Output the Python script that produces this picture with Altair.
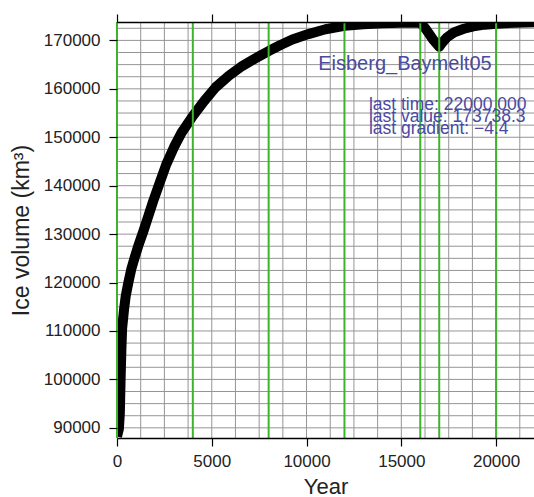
import altair as alt
import pandas as pd

# ---- data ----
years = [0, 100, 150, 190, 230, 270, 370, 460, 600, 750, 950, 1150, 1400, 1650,
         1900, 2250, 2600, 3000, 3400, 4000, 4600, 5200, 5900, 6600, 7300, 8000,
         8600, 9250, 10100, 11000, 12000, 13000, 14000, 15000, 16000, 16300,
         16650, 17000, 17150, 17400, 17800, 18300, 18800, 19400, 20000, 21000, 22000]
volume = [88200, 89800, 93000, 100000, 106000, 110500, 114400, 117200, 120000,
          122700, 125400, 127900, 130700, 133700, 136700, 140600, 144400, 147900,
          150900, 154400, 157500, 160300, 162700, 164700, 166300, 167800, 169000,
          170200, 171300, 172300, 173000, 173350, 173550, 173650, 173700, 172300,
          170300, 168700, 169500, 170600, 171700, 172400, 172900, 173250, 173450,
          173650, 173738.3]
green_years = [0, 4000, 8000, 12000, 16000, 17000, 20000]
x_ticks = [0, 5000, 10000, 15000, 20000]
y_ticks = [90000, 100000, 110000, 120000, 130000, 140000, 150000, 160000, 170000]
vgrid = list(range(0, 22001, 1250))
hgrid = list(range(90000, 173801, 2500))
x_domain = [0, 22000]
y_domain = [87900, 173800]

label_text = ["Eisberg_Baymelt05"]
label_x = [15190]
label_y = [165140]
info_text = ["last time: 22000.000", "last value: 173738.3", "last gradient: \u22124.4"]
info_x = [13290, 13290, 13290]
info_y = [156580, 154110, 151640]

FONT = "Liberation Sans"
TXT_COLOR = "#4a4aa2"

df_line = pd.DataFrame({"year": years, "volume": volume})
df_green = pd.DataFrame({"x": green_years})
df_vg = pd.DataFrame({"x": vgrid})
df_hg = pd.DataFrame({"y": hgrid})
df_label = pd.DataFrame({"x": label_x, "y": label_y, "t": label_text})
df_info = pd.DataFrame({"x": info_x, "y": info_y, "t": info_text})

xs = alt.Scale(domain=x_domain, nice=False, zero=False)
ys = alt.Scale(domain=y_domain, nice=False, zero=False)

y_axis = alt.Axis(
    orient="left", values=y_ticks, format="d", title="Ice volume (km\u00b3)",
    grid=False, domain=False, tickSize=8, tickColor="black", tickWidth=1.2,
    labelFontSize=17, labelPadding=9, labelFlush=False, titleFontSize=23,
    titlePadding=10, zindex=1)
top_axis = alt.Axis(
    orient="top", values=x_ticks, labels=False, title=None, grid=False,
    ticks=True, tickSize=8, tickColor="black", tickWidth=1.2,
    domain=True, domainColor="black", domainWidth=1.6, zindex=1)
bottom_axis = alt.Axis(
    orient="bottom", values=x_ticks, format="d", title="Year", grid=False,
    tickSize=8, tickColor="black", tickWidth=1.2, domainColor="black",
    domainWidth=1.6, labelFontSize=17, labelPadding=7, labelFlush=False,
    titleFontSize=22, titlePadding=7, zindex=1)

hg = alt.Chart(df_hg).mark_rule(color="#959595", strokeWidth=1).encode(
    y=alt.Y("y:Q", scale=ys, axis=y_axis)
)
vg = alt.Chart(df_vg).mark_rule(color="#959595", strokeWidth=1).encode(
    x=alt.X("x:Q", scale=xs, axis=top_axis)
)
line = alt.Chart(df_line).mark_line(
    color="black", strokeWidth=10, strokeJoin="round", clip=True
).encode(
    x=alt.X("year:Q", scale=xs, axis=bottom_axis),
    y=alt.Y("volume:Q", scale=ys, axis=y_axis),
)
green = alt.Chart(df_green).mark_rule(color="#3db52a", strokeWidth=2).encode(
    x=alt.X("x:Q", scale=xs, axis=None)
)
label = alt.Chart(df_label).mark_text(
    font=FONT, fontSize=20, color=TXT_COLOR, align="center", baseline="middle"
).encode(
    x=alt.X("x:Q", scale=xs, axis=None),
    y=alt.Y("y:Q", scale=ys, axis=y_axis),
    text="t:N",
)
info = alt.Chart(df_info).mark_text(
    font=FONT, fontSize=17.5, color=TXT_COLOR, align="left", baseline="middle"
).encode(
    x=alt.X("x:Q", scale=xs, axis=None),
    y=alt.Y("y:Q", scale=ys, axis=y_axis),
    text="t:N",
)

chart = alt.layer(hg, vg, line, green, label, info).properties(
    width=417, height=416,
    autosize=alt.AutoSizeParams(type="none"),
    padding={"left": 117, "top": 22, "right": 0, "bottom": 59},
    background="white",
).configure_view(stroke=None).configure_axis(
    labelFont=FONT, titleFont=FONT, labelColor="#222222", titleColor="#222222",
    titleFontWeight="normal"
)

chart.save("out.html", embed_options={"renderer": "svg", "actions": False})
